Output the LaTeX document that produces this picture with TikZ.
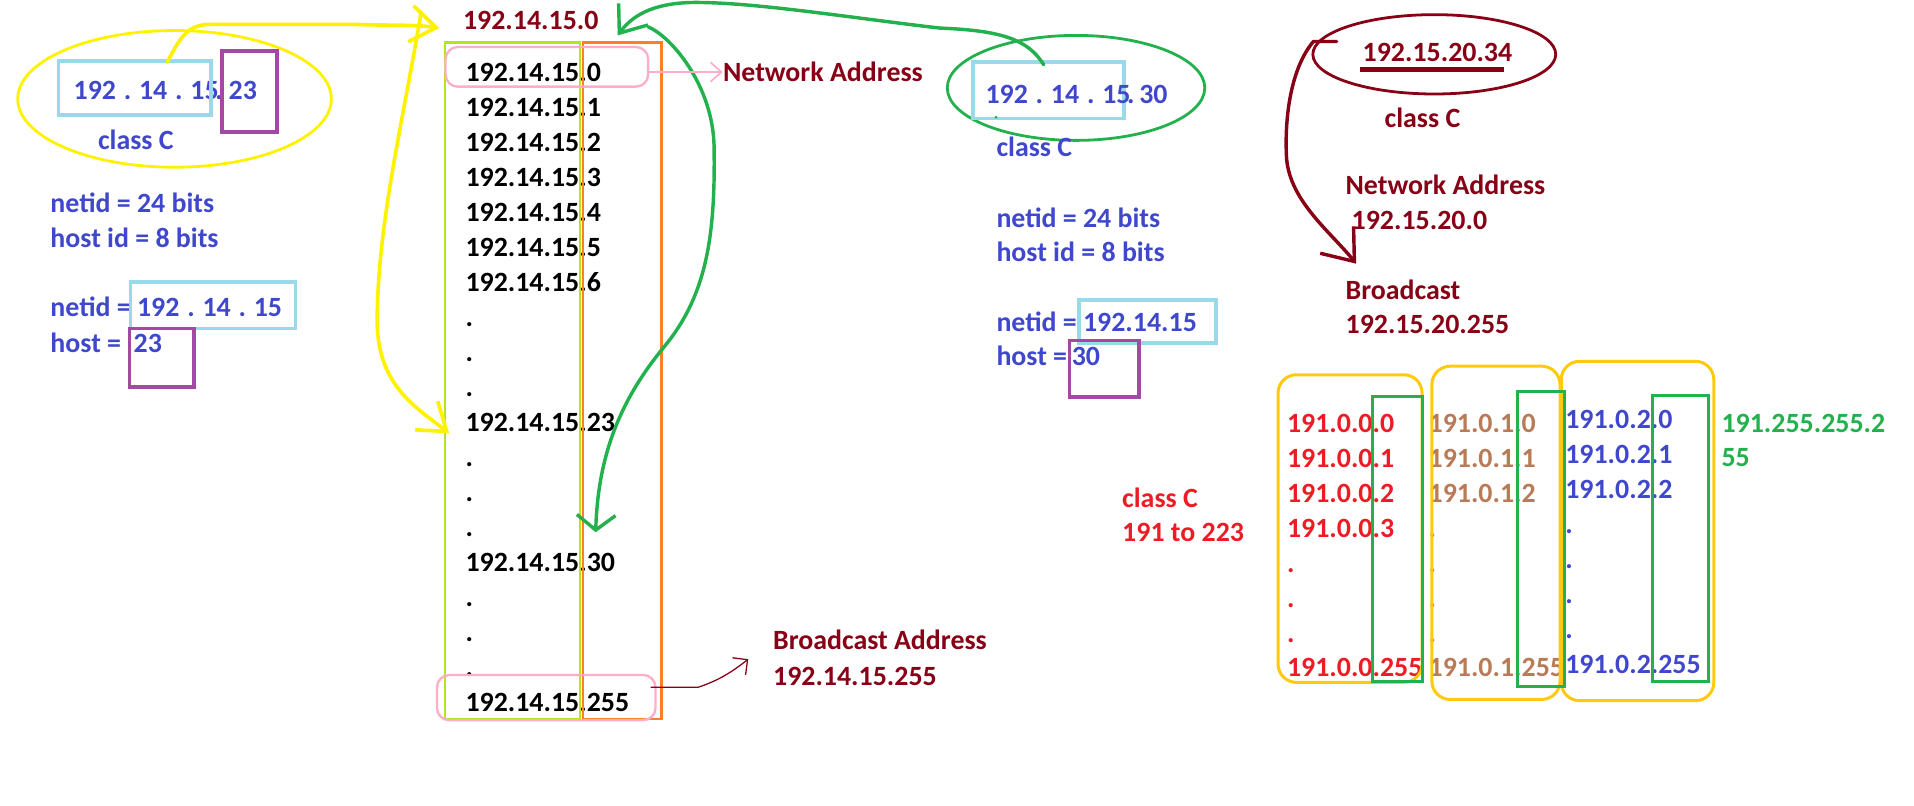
\documentclass[tikz,border=0pt]{standalone}
\usepackage{fontspec}
\setmainfont{Carlito}
\usetikzlibrary{arrows.meta,shapes.geometric}

\definecolor{pindigo}{HTML}{3F48CC}
\definecolor{pblue}{HTML}{99D9EA}
\definecolor{ppurple}{HTML}{A349A4}
\definecolor{pyellow}{HTML}{FFF200}
\definecolor{pmaroon}{HTML}{880015}
\definecolor{pgreen}{HTML}{22B14C}
\definecolor{porange}{HTML}{FF7F27}
\definecolor{ppink}{HTML}{FFAEC9}
\definecolor{plime}{HTML}{B5E61D}
\definecolor{pred}{HTML}{ED1C24}
\definecolor{pbrown}{HTML}{B97A57}
\definecolor{pgold}{HTML}{FFC90E}

\newcommand{\ipsp}{\hspace{0.28em}}

\tikzset{
  lbl/.style={inner sep=0pt,anchor=west,text height=8.4pt,text depth=0pt,font=\bfseries\fontsize{13pt}{15pt}\selectfont},
  box/.style={draw,line width=1.7pt,inner sep=0pt},
  pill/.style={draw=ppink,line width=1.1pt,rounded corners=0.2cm,inner sep=0pt},
  ring/.style={ellipse,line width=1.3pt,inner sep=0pt},
  hand/.style={line width=1.7pt,line cap=round,line join=round},
  barb/.style={-{Straight Barb[length=12pt,width=17pt]}},
  gold/.style={draw=pgold,line width=1.4pt,rounded corners=0.3cm},
  grn/.style={draw=pgreen,line width=1.4pt},
}

\begin{document}
\begin{tikzpicture}[x=0.02cm,y=-0.02cm]
\useasboundingbox (0,0) rectangle (1568,660);

% left: 192.14.15.23
\node[ring,draw=pyellow,minimum width=5.14cm,minimum height=2.24cm] (yring) at (143,81) {};
\node[lbl,text=pindigo] (lip) at (60,74) {192\ipsp.\ipsp14\ipsp.\ipsp15};
\node[lbl,text=pindigo] (ldot) at (176,74) {.};
\node[lbl,text=pindigo] (lhid) at (187,74) {23};
\node[box,draw=pblue,minimum width=2.5cm,minimum height=0.88cm] (lnet) at (110.5,72) {};
\node[box,draw=ppurple,minimum width=0.9cm,minimum height=1.32cm] (lhost) at (204.5,75) {};
\node[lbl,text=pindigo] (lcls) at (80,115) {class C};
\node[lbl,text=pindigo] (lbits) at (41,167) {netid = 24 bits};
\node[lbl,text=pindigo] (lhbits) at (41,195) {host id = 8 bits};
\node[lbl,text=pindigo] (lnid) at (41,252) {netid = 192\ipsp.\ipsp14\ipsp.\ipsp15};
\node[box,draw=pblue,minimum width=2.7cm,minimum height=0.76cm] (lnidbox) at (174.5,250) {};
\node[lbl,text=pindigo] (lhst) at (41,281) {host =\ \ 23};
\node[box,draw=ppurple,minimum width=1.06cm,minimum height=0.96cm] (lhstbox) at (132.5,293) {};

% middle: all hosts of 192.14.15
\node[lbl,text=pmaroon] (hdr) at (379,17) {192.14.15.0};
\foreach \t [count=\k from 0] in {192.14.15.0,192.14.15.1,192.14.15.2,192.14.15.3,192.14.15.4,192.14.15.5,192.14.15.6,.,.,.,192.14.15.23,.,.,.,192.14.15.30,.,.,.,192.14.15.255}
  \node[lbl] (r\k) at (381,{59+28.7*\k}) {\t};
\draw[plime,line width=1.2pt] (364.5,35) rectangle (475,589);
\draw[porange,line width=1.2pt] (477.5,35) rectangle (542,589);
\node[pill,minimum width=3.32cm,minimum height=0.65cm] (p0) at (448,54.75) {};
\node[pill,minimum width=3.58cm,minimum height=0.74cm] (p255) at (447.5,571.5) {};
\node[lbl,text=pmaroon] (na) at (592,59) {Network Address};
\node[lbl,text=pmaroon] (ba) at (633,525) {Broadcast Address};
\node[lbl,text=pmaroon] (baip) at (633,554) {192.14.15.255};

% second example: 192.14.15.30
\node[ring,draw=pgreen,minimum width=4.22cm,minimum height=1.72cm] (gring) at (881.5,72) {};
\node[box,draw=pblue,minimum width=2.48cm,minimum height=0.92cm] (gnet) at (859,74) {};
\node[lbl,text=pindigo] (gip) at (807,77) {192\ipsp.\ipsp14\ipsp.\ipsp15};
\node[lbl,text=pindigo] (gdot) at (923,77) {.};
\node[lbl,text=pindigo] (ghid) at (933,77) {30};
\fill[pgreen] (816,96) circle (1.3);
\node[lbl,text=pindigo] (gcls) at (816,121) {class C};
\node[lbl,text=pindigo] (gbits) at (816,179) {netid = 24 bits};
\node[lbl,text=pindigo] (ghbits) at (816,207) {host id = 8 bits};
\node[lbl,text=pindigo] (gnid) at (816,264) {netid = 192.14.15};
\node[box,draw=pblue,minimum width=2.24cm,minimum height=0.7cm] (gnidbox) at (940,263.5) {};
\node[lbl,text=pindigo] (ghst) at (816,292) {host =\,30};
\node[box,draw=ppurple,minimum width=1.14cm,minimum height=0.92cm] (ghstbox) at (904.5,302) {};

% third example: 192.15.20.34
\node[ring,draw=pmaroon,minimum width=3.98cm,minimum height=1.3cm] (mring) at (1175,44.5) {};
\node[lbl,text=pmaroon] (mip) at (1116,43) {192.15.20.34};
\draw[pmaroon,line width=2pt] (1114,57) -- (1232,57);
\node[lbl,text=pmaroon] (mcls) at (1134,97) {class C};
\node[lbl,text=pmaroon] (mna) at (1102,152) {Network Address};
\node[lbl,text=pmaroon] (mnaip) at (1107,181) {192.15.20.0};
\node[lbl,text=pmaroon] (mbc) at (1102,238) {Broadcast};
\node[lbl,text=pmaroon] (mbcip) at (1102,266) {192.15.20.255};

% class C ranges
\node[lbl,text=pred] (rcls) at (919,408) {class C};
\node[lbl,text=pred] (rrng) at (919,436) {191 to 223};
\foreach \t [count=\k from 0] in {191.0.0.0,191.0.0.1,191.0.0.2,191.0.0.3,.,.,.,191.0.0.255}
  \node[lbl,text=pred] (a\k) at (1054,{347+28.6*\k}) {\t};
\foreach \t [count=\k from 0] in {191.0.1.0,191.0.1.1,191.0.1.2,.,.,.,.,191.0.1.255}
  \node[lbl,text=pbrown] (b\k) at (1170,{347+28.6*\k}) {\t};
\foreach \t [count=\k from 0] in {191.0.2.0,191.0.2.1,191.0.2.2,.,.,.,.,191.0.2.255}
  \node[lbl,text=pindigo] (c\k) at (1282,{344+28.6*\k}) {\t};
\draw[gold] (1047,307) rectangle (1165,559);
\draw[gold] (1173,300) rectangle (1278,573);
\draw[gold] (1279,296) rectangle (1404,574);
\draw[grn] (1124,325) rectangle (1165,558);
\draw[grn] (1243,321) rectangle (1282,562);
\draw[grn] (1354,324) rectangle (1400,558);
\node[lbl,text=pgreen] (gw1) at (1410,347) {191.255.255.2};
\node[lbl,text=pgreen] (gw2) at (1410,375) {55};

% connectors
\coordinate (ybeg) at (137,51);
\coordinate (ytip) at (360,23);
\coordinate (ytop) at (345,10);
\coordinate (y23) at (368,355);
\coordinate (gbeg) at (855,53);
\coordinate (gtip) at (506,29);
\coordinate (gmid) at (531,22);
\coordinate (g30) at (488,436);
\coordinate (bbeg) at (533,563);
\coordinate (btip) at (613,540);
\coordinate (mtick) at (1095,34);
\coordinate (mtip) at (1111,216);
\draw[pyellow,hand,barb] (ybeg) .. controls (146,34) and (152,21) .. (170,20) -- (290,20) .. controls (320,21) and (340,20) .. (ytip);
\draw[pyellow,hand,barb] (ytop) .. controls (330,100) and (310,180) .. (309,260) .. controls (308,315) and (340,333) .. (y23);
\draw[pgreen,hand,line width=1.6pt,-{Straight Barb[length=11pt,width=17pt]}] (gbeg) .. controls (842,32) and (820,25) .. (770,23) .. controls (700,15) and (620,2) .. (570,2) .. controls (540,2) and (520,10) .. (gtip);
\draw[pgreen,hand,line width=1.6pt,-{Straight Barb[length=7pt,width=18pt]}] (gmid) .. controls (550,30) and (584,70) .. (585,120) .. controls (586,190) and (580,240) .. (545,283) .. controls (510,325) and (490,370) .. (g30);
\draw[ppink,line width=0.8pt,-{Straight Barb[length=5pt,width=9pt]}] (p0.east |- na.west) -- (na.west);
\draw[pmaroon,line width=0.6pt,-{Straight Barb[length=5pt,width=10pt]}] (bbeg) -- (572,563) .. controls (590,557) and (600,550) .. (btip);
\draw[pmaroon,hand,line width=1.6pt,-{Straight Barb[length=13pt,width=20pt]}] (mtick) -- (1076,34) .. controls (1058,55) and (1052,95) .. (1054,130) .. controls (1057,165) and (1090,190) .. (mtip);
\end{tikzpicture}
\end{document}
